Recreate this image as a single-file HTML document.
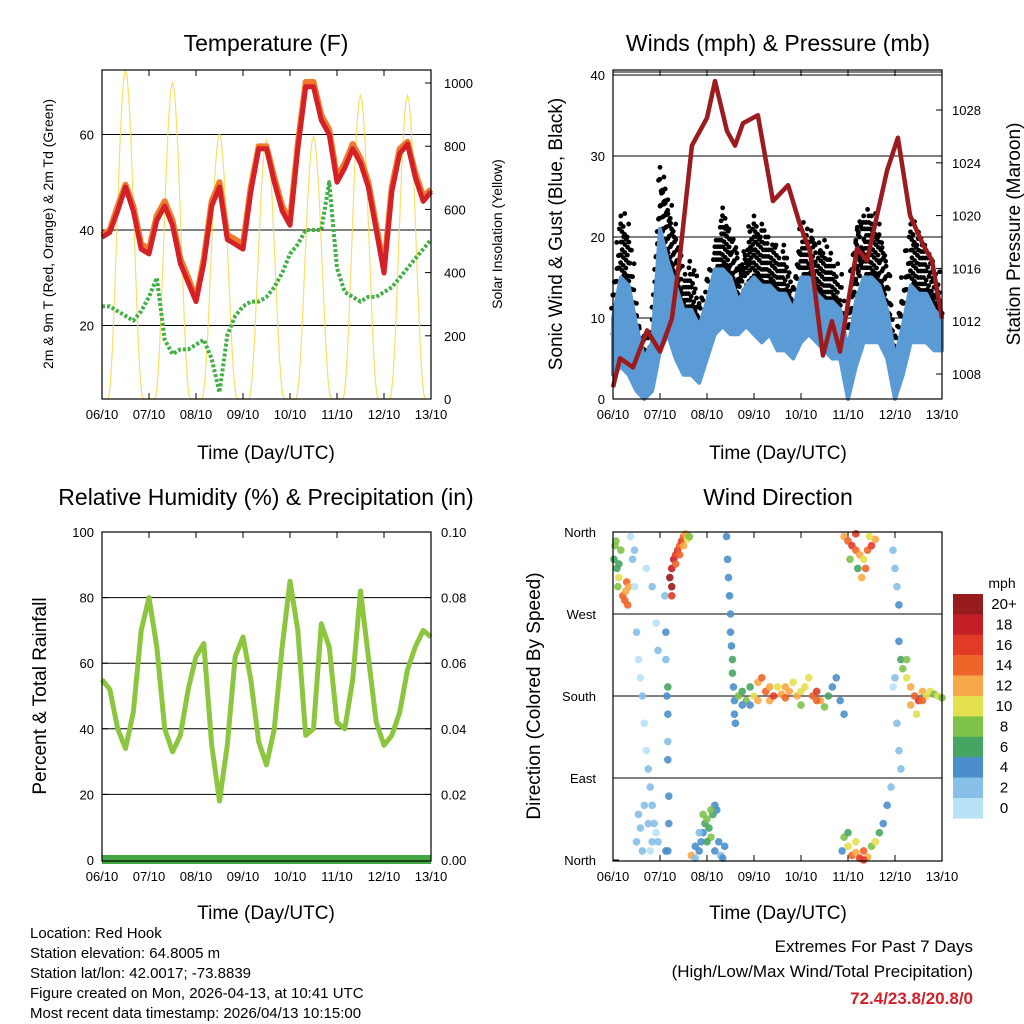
<!DOCTYPE html>
<html><head><meta charset="utf-8"><style>
html,body{margin:0;padding:0;background:#fff;}
svg{display:block;font-family:"Liberation Sans",Arial,sans-serif;}
</style></head><body>
<svg id="c" width="1024" height="1024" viewBox="0 0 1024 1024" xmlns="http://www.w3.org/2000/svg">
<g id="g"></g>
<text x="266" y="51" font-size="23" text-anchor="middle">Temperature (F)</text>
<text x="778" y="51" font-size="23" text-anchor="middle">Winds (mph) &amp; Pressure (mb)</text>
<text x="266" y="505" font-size="23" text-anchor="middle">Relative Humidity (%) &amp; Precipitation (in)</text>
<text x="778" y="505" font-size="23" text-anchor="middle">Wind Direction</text>
<text x="266" y="459" font-size="19" text-anchor="middle">Time (Day/UTC)</text>
<text x="778" y="459" font-size="19" text-anchor="middle">Time (Day/UTC)</text>
<text x="266" y="919" font-size="19" text-anchor="middle">Time (Day/UTC)</text>
<text x="778" y="919" font-size="19" text-anchor="middle">Time (Day/UTC)</text>
<text transform="translate(53,234) rotate(-90)" font-size="14" text-anchor="middle">2m &amp; 9m T (Red, Orange) &amp; 2m Td (Green)</text>
<text transform="translate(502,234) rotate(-90)" font-size="14" text-anchor="middle">Solar Insolation (Yellow)</text>
<text transform="translate(562,234) rotate(-90)" font-size="19" text-anchor="middle">Sonic Wind &amp; Gust (Blue, Black)</text>
<text transform="translate(1020,234) rotate(-90)" font-size="19" text-anchor="middle">Station Pressure (Maroon)</text>
<text transform="translate(46,696) rotate(-90)" font-size="19" text-anchor="middle">Percent &amp; Total Rainfall</text>
<text transform="translate(540,696) rotate(-90)" font-size="19" text-anchor="middle">Direction (Colored By Speed)</text>
<g font-size="15">
<text x="30" y="938">Location: Red Hook</text>
<text x="30" y="958">Station elevation: 64.8005 m</text>
<text x="30" y="978">Station lat/lon: 42.0017; -73.8839</text>
<text x="30" y="998">Figure created on Mon, 2026-04-13, at 10:41 UTC</text>
<text x="30" y="1018">Most recent data timestamp: 2026/04/13 10:15:00</text>
</g>
<text x="973" y="952" font-size="17" text-anchor="end">Extremes For Past 7 Days</text>
<text x="973" y="977" font-size="17" text-anchor="end">(High/Low/Max Wind/Total Precipitation)</text>
<text x="973" y="1004" font-size="17" font-weight="bold" fill="#d0202a" text-anchor="end">72.4/23.8/20.8/0</text>
<text x="1002" y="588" font-size="14" text-anchor="middle">mph</text>
</svg>
<script>
// ===== DATA =====
const hours4 = [0,4,8,12,16,20,24,28,32,36,40,44,48,52,56,60,64,68,72,76,80,84,88,92,96,100,104,108,112,116,120,124,128,132,136,140,144,148,152,156,160,164,168];
const temp2m = [38.5,39.5,44,49,44,36,35,42,45,41,33,29,25,33,45,49,38,37,36,48,57,57,50,44,41,57,70,70,63,60,50,53,57,54,49,40,31,48,56,58,51,46,48];
const temp9m = [39,40,45,49.5,45,37,36,43,46,42,34,30,25.5,34,46,50,39,38,37,49,57.5,57.5,51,45,42,58,71,71,64,61,51,54,58,55,50,41,32,49,57,58.5,52,47,48.5];
const dewpt = [24,24,23,22,21,23,26,30,17,14,15,15,16,17,13,6,18,22,24,25,25,26,28,31,35,37,40,40,40,50,32,27,26,25,26,26,27,28,30,32,34,36,38];
const solarPeakHour = [12,36,60,84,108,132,156];
const solarPeak = [1040,1000,840,820,830,960,960];
const windHi = [10,15,14,9,5,7,21,17,14,11,11,9,12,16,16,15,12,14,15,14,14,13,13,11,15,15,13,12,12,11,6,12,15,15,14,11,5,9,14,13,13,11,10];
const windLo = [3,4,3,1,0,1,6,8,5,3,3,2,5,8,9,8,8,9,8,7,8,6,6,5,7,8,7,6,5,5,0,4,7,7,7,5,0,3,7,7,7,6,6];
const gustHi = [14,24,22,12,8,10,30,26,22,16,18,13,15,20,24,22,18,20,23,22,21,19,19,15,22,22,20,20,18,16,10,22,24,24,22,18,8,16,23,21,20,17,15];
const presHours = [0,3.6,10.2,17.4,24,30.1,34.2,40.3,48,52.1,58.2,62.3,66.4,74,81.7,89.4,95.5,100.6,107.2,111.8,115.9,124.6,129.7,139.9,145.5,151.7,158.3,162.9,168];
const presVals = [1007,1009.2,1008.5,1011.3,1009.7,1012.2,1017,1025.3,1027.4,1030.2,1026.4,1025.3,1027,1027.6,1021.1,1022.3,1019.3,1017.3,1009.4,1012,1009.7,1017.5,1016.6,1023.4,1025.9,1020,1017.8,1016.6,1012.2];
const rh = [55,52,40,34,45,70,80,65,40,33,38,52,62,66,35,18,35,62,68,55,36,29,40,65,85,70,38,40,72,65,42,40,55,82,62,42,35,38,45,58,65,70,68];
const dirHours = [0.5,1,2,2.5,3,1.5,5,6,6.5,7,7.5,8,4,3,
9,10,11,12,13,14,15,16,17,18,19,20,21,22,23,16,18,20,12,13,14,15,19,11,17,20,22,23,
27,27,27.5,28,28,28,28.5,28.5,28,27,26.5,28,
29,30,30,31,32,33,34,35,36,37,38,39,30,32,34,36,
40,42,44,45,46,47,48,49,50,51,52,53,54,55,56,57,46,48,50,52,44,42,
58,58.5,59,59.5,60,60,60.5,61,61,61.5,62,62,62.5,
64,66,68,70,72,74,76,78,80,82,84,86,88,90,92,94,96,98,100,102,104,106,108,110,112,114,116,118,70,66,74,80,88,96,104,
118,120,122,124,126,128,130,132,134,121,125,127,129,131,124,
117,118,120,122,124,126,128,130,132,134,136,138,140,142,120,124,128,
143,144,145,146,144,145,146,147,143,146,147,148,
150,152,154,156,158,160,162,164,166,168,150,152,155,158];
const dirDegs = [330,345,320,300,310,350,290,285,295,305,280,300,340,325,
355,330,300,250,220,200,180,150,120,100,80,60,40,30,20,60,40,20,20,50,35,10,10,340,320,300,260,230,
250,220,180,160,130,110,70,40,10,10,290,190,
310,300,320,330,335,340,345,350,355,358,352,355,290,325,335,345,
5,2,10,20,30,40,45,35,25,50,60,55,20,5,2,15,50,20,55,10,30,15,
355,330,310,290,270,250,235,220,205,190,175,160,150,
180,185,175,190,180,195,200,185,175,180,190,182,178,185,195,180,170,190,200,180,185,175,168,180,190,200,175,160,170,170,175,190,190,185,175,
355,350,345,340,335,330,340,345,352,330,320,310,320,355,358,
10,25,15,5,8,2,10,3,15,20,30,40,60,80,30,20,0,
340,320,300,280,200,150,120,100,190,240,220,210,
200,190,180,175,185,180,185,182,180,178,220,170,160,175];
const dirSpeeds = [6,8,7,8,10,9,14,15,13,14,14,12,8,6,
1,2,1,2,1,1,2,1,1,2,2,2,2,1,2,3,3,2,3,3,2,3,1,2,1,2,1,2,
4,3,5,4,3,4,4,4,4,4,3,6,
20,20,18,18,16,16,14,16,14,12,10,8,16,14,15,13,
12,3,4,4,5,6,8,7,8,6,4,5,4,3,4,5,8,6,8,5,2,4,
4,4,4,4,4,4,4,6,6,4,4,4,4,
8,6,8,6,10,12,14,14,12,16,10,12,14,12,10,12,8,10,10,14,16,12,8,6,4,4,4,4,4,4,12,13,12,11,14,
12,14,16,14,12,10,14,16,12,8,6,12,14,10,16,
4,8,10,14,12,16,14,12,8,10,6,4,4,3,6,10,16,
2,2,2,4,2,3,2,2,1,4,6,8,
10,12,14,16,12,10,10,8,10,8,8,12,10,14];
const speedColors = ["#b8e3f6","#86bfe8","#4a8fcb","#47a563","#7fc24a","#e4df4f","#f8a848","#ef6429","#e13b27","#c41f27","#981b1e"];
const colorbarLabels = ["20+","18","16","14","12","10","8","6","4","2","0"];
const dayLabels = ["06/10","07/10","08/10","09/10","10/10","11/10","12/10","13/10"];

// ===== HELPERS =====
const NS="http://www.w3.org/2000/svg";
const root=document.getElementById('g');
function mk(tag,attrs,parent){const e=document.createElementNS(NS,tag);for(const k in attrs)e.setAttribute(k,attrs[k]);(parent||root).appendChild(e);return e;}
function txt(x,y,s,size,anchor,parent){const t=mk('text',{x:x,y:y,'font-size':size,'text-anchor':anchor||'middle'},parent);t.textContent=s;return t;}
const W=329,H=329;
function xScale(x0){return h=>x0+h/168*W;}

function frame(x0,y0,name){
  const g=mk('g',{});
  
  
  const xs=xScale(x0);
  for(let d=0;d<=7;d++){
    const x=xs(d*24);
    mk('line',{x1:x,y1:y0+H,x2:x,y2:y0+H-6,stroke:'#000','stroke-width':1},g);
    mk('line',{x1:x,y1:y0,x2:x,y2:y0+6,stroke:'#000','stroke-width':1},g);
    const t=txt(x,y0+H+20,dayLabels[d],13,'middle',g);
    
    
  }
  return g;
}
function box(x0,y0){mk('rect',{x:x0,y:y0,width:W,height:H,fill:'none',stroke:'#000','stroke-width':1.2});}
function hgrid(x0,y,name){const l=mk('line',{x1:x0,x2:x0+W,y1:y,y2:y,stroke:'#000','stroke-width':1});}

// ===== PANEL 1: TEMPERATURE =====
(function(){
  const x0=102,y0=70,xs=xScale(x0);
  const yT=v=>421-v*4.775;
  const yS=v=>399-v*0.316;
  frame(x0,y0,'temperature');
  [20,40,60].forEach(v=>hgrid(x0,yT(v),'temp-gridline'));
  [20,40,60].forEach(v=>{const t=txt(x0-8,yT(v)+5,String(v),13,'end');mk('line',{x1:x0,x2:x0+6,y1:yT(v),y2:yT(v),stroke:'#000'});});
  [0,200,400,600,800,1000].forEach(v=>{const t=txt(x0+W+13,yS(v)+5,String(v),13,'start');mk('line',{x1:x0+W-6,x2:x0+W,y1:yS(v),y2:yS(v),stroke:'#000'});});
  let sp='';
  for(let i=0;i<solarPeakHour.length;i++){
    const c=solarPeakHour[i];
    for(let k=-12;k<=12;k++){const h=c+k*0.75;const f=Math.cos(k/12*Math.PI/2);sp+=(sp?'L':'M')+xs(h).toFixed(1)+','+yS(solarPeak[i]*f*f).toFixed(1);}
  }
  const s=mk('path',{d:sp,fill:'none',stroke:'#f7d94a','stroke-width':1.2,'stroke-opacity':0.85});
  
  const line=(arr,sc)=>arr.map((v,i)=>(i?'L':'M')+xs(hours4[i]).toFixed(1)+','+sc(v).toFixed(1)).join('');
  const o=mk('path',{d:line(temp9m,yT),fill:'none',stroke:'#f07a2a','stroke-width':6,'stroke-linejoin':'round'});
  
  const r=mk('path',{d:line(temp2m,yT),fill:'none',stroke:'#d42027','stroke-width':5,'stroke-linejoin':'round'});
  
  const gpath=mk('path',{d:line(dewpt,yT),fill:'none',stroke:'#43b047','stroke-width':4,'stroke-dasharray':'3 2','stroke-linejoin':'round'});
  
  box(x0,y0);
})();

// ===== PANEL 2: WINDS =====
(function(){
  const x0=613,y0=70,xs=xScale(x0);
  const yW=v=>399-v*8.1;
  const yP=p=>374-(p-1008)*13.2;
  frame(x0,y0,'winds');
  [10,20,30,40].forEach(v=>hgrid(x0,yW(v),'wind-gridline'));
  hgrid(x0,yW(40)-3,'wind-gridline-top');
  [0,10,20,30,40].forEach(v=>{const t=txt(x0-8,yW(v)+5,String(v),13,'end');mk('line',{x1:x0,x2:x0+6,y1:yW(v),y2:yW(v),stroke:'#000'});});
  [1008,1012,1016,1020,1024,1028].forEach(v=>{const t=txt(x0+W+10,yP(v)+5,String(v),13,'start');mk('line',{x1:x0+W-6,x2:x0+W,y1:yP(v),y2:yP(v),stroke:'#000'});});
  const gg=mk('g',{fill:'#000'});
  
  for(let i=0;i<hours4.length-1;i++){
    for(let k=0;k<6;k++){
      const f=k/6;
      const h=hours4[i]+f*(hours4[i+1]-hours4[i]);
      const hi=gustHi[i]+f*(gustHi[i+1]-gustHi[i]) - (k%3);
      const lo=windHi[i]+f*(windHi[i+1]-windHi[i]) - 2;
      let n=0;
      for(let v=lo+(k%2)*0.8;v<=hi;v+=1.6){n++;mk('circle',{cx:xs(h)+((n%3)-1)*1.5,cy:yW(v),r:2.4},gg);}
    }
  }
  let top='',bot='';
  hours4.forEach((h,i)=>{top+=(i?'L':'M')+xs(h).toFixed(1)+','+yW(windHi[i]).toFixed(1);});
  for(let i=hours4.length-1;i>=0;i--){bot+='L'+xs(hours4[i]).toFixed(1)+','+yW(windLo[i]).toFixed(1);}
  const wb=mk('path',{d:top+bot+'Z',fill:'#5b9bd5',stroke:'#5b9bd5','stroke-width':4,'stroke-linejoin':'round'});
  
  const pd=presVals.map((p,i)=>(i?'L':'M')+xs(presHours[i]).toFixed(1)+','+yP(p).toFixed(1)).join('');
  const pl=mk('path',{d:pd,fill:'none',stroke:'#9b1b1e','stroke-width':4.5,'stroke-linejoin':'round'});
  
  box(x0,y0);
})();

// ===== PANEL 3: RH =====
(function(){
  const x0=102,y0=532,xs=xScale(x0);
  const yR=v=>860-v*3.28;
  frame(x0,y0,'humidity');
  [20,40,60,80].forEach(v=>hgrid(x0,yR(v),'rh-gridline'));
  [0,20,40,60,80,100].forEach(v=>{const t=txt(x0-8,yR(v)+5,String(v),13,'end');mk('line',{x1:x0,x2:x0+6,y1:yR(v),y2:yR(v),stroke:'#000'});});
  ['0.00','0.02','0.04','0.06','0.08','0.10'].forEach((s,i)=>{const t=txt(x0+W+10,yR(i*20)+5,s,13,'start');mk('line',{x1:x0+W-6,x2:x0+W,y1:yR(i*20),y2:yR(i*20),stroke:'#000'});});
  const d=rh.map((v,i)=>(i?'L':'M')+xs(hours4[i]).toFixed(1)+','+yR(v).toFixed(1)).join('');
  const p=mk('path',{d:d,fill:'none',stroke:'#8cc63f','stroke-width':5,'stroke-linejoin':'round'});
  
  const pr=mk('rect',{x:x0,y:855,width:W,height:9,fill:'#43a843'});
  
  box(x0,y0);
})();

// ===== PANEL 4: WIND DIRECTION =====
(function(){
  const x0=613,y0=532,xs=xScale(x0);
  const yD=d=>860-d*328/360;
  frame(x0,y0,'direction');
  [90,180,270].forEach(v=>hgrid(x0,yD(v),'dir-gridline'));
  [['North',360],['West',270],['South',180],['East',90],['North',0]].forEach(a=>{const t=txt(x0-17,yD(a[1])+5,a[0],13,'end');mk('line',{x1:x0,x2:x0+6,y1:yD(a[1]),y2:yD(a[1]),stroke:'#000'});});
  const dg=mk('g',{});
  
  for(let i=0;i<dirHours.length;i++){
    const b=Math.min(10,Math.floor(dirSpeeds[i]/2));
    const c=mk('circle',{cx:xs(dirHours[i]),cy:yD(dirDegs[i]),r:3.8,fill:speedColors[b],'fill-opacity':0.9},dg);
    
    
  }
  box(x0,y0);
  const cb=mk('g',{});
  
  for(let k=0;k<11;k++){
    const r=mk('rect',{x:953,y:594+k*20.4,width:30,height:20.6,fill:speedColors[10-k]},cb);
    
    const t=txt(1004,609+k*20.4,colorbarLabels[k],15,'middle',cb);
    
  }
})();
</script>
</body></html>
